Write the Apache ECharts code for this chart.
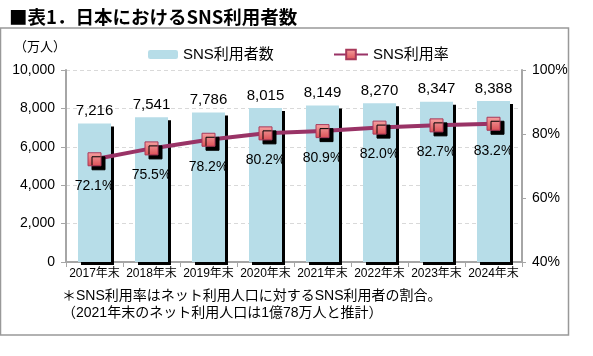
<!DOCTYPE html>
<html>
<head>
<meta charset="utf-8">
<script src="https://cdn.jsdelivr.net/npm/echarts@6/dist/echarts.min.js"></script>
<style>
html,body{margin:0;padding:0;background:#fff;}
#chart{width:593px;height:356px;}
</style>
</head>
<body>
<div id="chart"></div>
<script>
const titleText = '■表1．日本におけるSNS利用者数';
const categories = ['2017年末','2018年末','2019年末','2020年末','2021年末','2022年末','2023年末','2024年末'];
const users = [7216, 7541, 7786, 8015, 8149, 8270, 8347, 8388];
const rates = [72.1, 75.5, 78.2, 80.2, 80.9, 82.0, 82.7, 83.2];
const seriesNames = ['SNS利用者数', 'SNS利用率'];
const unitLabel = '（万人）';
const noteLines = ['＊SNS利用率はネット利用人口に対するSNS利用者の割合。', '（2021年末のネット利用人口は1億78万人と推計）'];

const FONT = '"Liberation Sans", "Noto Sans CJK JP", sans-serif';
const chart = echarts.init(document.getElementById('chart'), null, {renderer: 'canvas'});

const option = {
  animation: false,
  backgroundColor: '#fff',
  textStyle: {fontFamily: FONT, color: '#000'},
  title: {
    text: titleText, left: 4, top: 3,
    textStyle: {fontFamily: '"Noto Sans CJK JP", sans-serif', fontSize: 18.5, fontWeight: 'bold', color: '#000'}
  },
  legend: [
    {
      data: [seriesNames[0]], left: 143, top: 42, itemWidth: 30, itemHeight: 9, itemGap: 5,
      textStyle: {fontSize: 15, color: '#000', fontFamily: FONT}
    },
    {
      data: [seriesNames[1]], left: 328, top: 42, itemWidth: 34, itemHeight: 12,
      textStyle: {fontSize: 15, color: '#000', fontFamily: FONT}
    }
  ],
  grid: {left: 66, right: 71, top: 70, bottom: 94, containLabel: false},
  xAxis: {
    type: 'category', data: categories,
    axisLine: {lineStyle: {color: '#a6a6a6', width: 2}},
    axisTick: {show: true, alignWithLabel: false, length: 5, lineStyle: {color: '#a6a6a6', width: 1}},
    axisLabel: {interval: 0, fontSize: 12, color: '#000', margin: 6, fontFamily: FONT}
  },
  yAxis: [
    {
      type: 'value', min: 0, max: 10000, interval: 2000,
      axisLine: {show: true, lineStyle: {color: '#a6a6a6', width: 2}},
      axisTick: {show: true, length: 5, lineStyle: {color: '#a6a6a6'}},
      axisLabel: {fontSize: 14, color: '#000', margin: 11, fontFamily: FONT,
        formatter: v => v.toLocaleString('en-US')},
      splitLine: {show: true, lineStyle: {color: '#d9d9d9', type: [4, 3], width: 1}}
    },
    {
      type: 'value', min: 40, max: 100, interval: 20, position: 'right',
      axisLine: {show: true, lineStyle: {color: '#a6a6a6', width: 2}},
      axisTick: {show: true, length: 4, lineStyle: {color: '#a6a6a6'}},
      axisLabel: {fontSize: 14, color: '#000', margin: 10, fontFamily: FONT, formatter: '{value}%'},
      splitLine: {show: false}
    }
  ],
  series: [
    {
      name: seriesNames[0], type: 'bar', data: users, barWidth: 33, z: 2,
      itemStyle: {color: '#b7dde8', shadowColor: '#000', shadowBlur: 0, shadowOffsetX: 3, shadowOffsetY: 3},
      label: {show: true, position: 'top', distance: 5, fontSize: 15, color: '#000', fontFamily: FONT,
        formatter: p => p.value.toLocaleString('en-US')}
    },
    {
      name: seriesNames[1], type: 'line', yAxisIndex: 1, data: rates, z: 3,
      symbol: 'rect', symbolSize: 13,
      lineStyle: {color: '#993366', width: 4},
      itemStyle: {
        color: new echarts.graphic.LinearGradient(0, 0, 0, 1, [
          {offset: 0, color: '#f6a3a3'}, {offset: 1, color: '#dc4f55'}
        ]),
        borderColor: '#a8395a', borderWidth: 1,
        shadowColor: '#000', shadowBlur: 0, shadowOffsetX: 4, shadowOffsetY: 4
      },
      label: {show: true, position: 'bottom', distance: 13, fontSize: 14, color: '#000', fontFamily: FONT,
        formatter: p => p.value.toFixed(1) + '%'}
    }
  ],
  graphic: [
    {type: 'rect', silent: true, z: -1, shape: {x: 0.5, y: 28, width: 568, height: 307},
      style: {fill: 'none', stroke: '#999', lineWidth: 1.5}},
    {type: 'text', left: 14, top: 41, style: {text: unitLabel, fontSize: 13, fill: '#000', fontFamily: FONT}},
    {type: 'text', left: 62, top: 289, style: {text: noteLines[0], fontSize: 14, fill: '#000', fontFamily: FONT}},
    {type: 'text', left: 62, top: 306, style: {text: noteLines[1], fontSize: 14, fill: '#000', fontFamily: FONT}}
  ]
};
chart.setOption(option);
</script>
</body>
</html>
